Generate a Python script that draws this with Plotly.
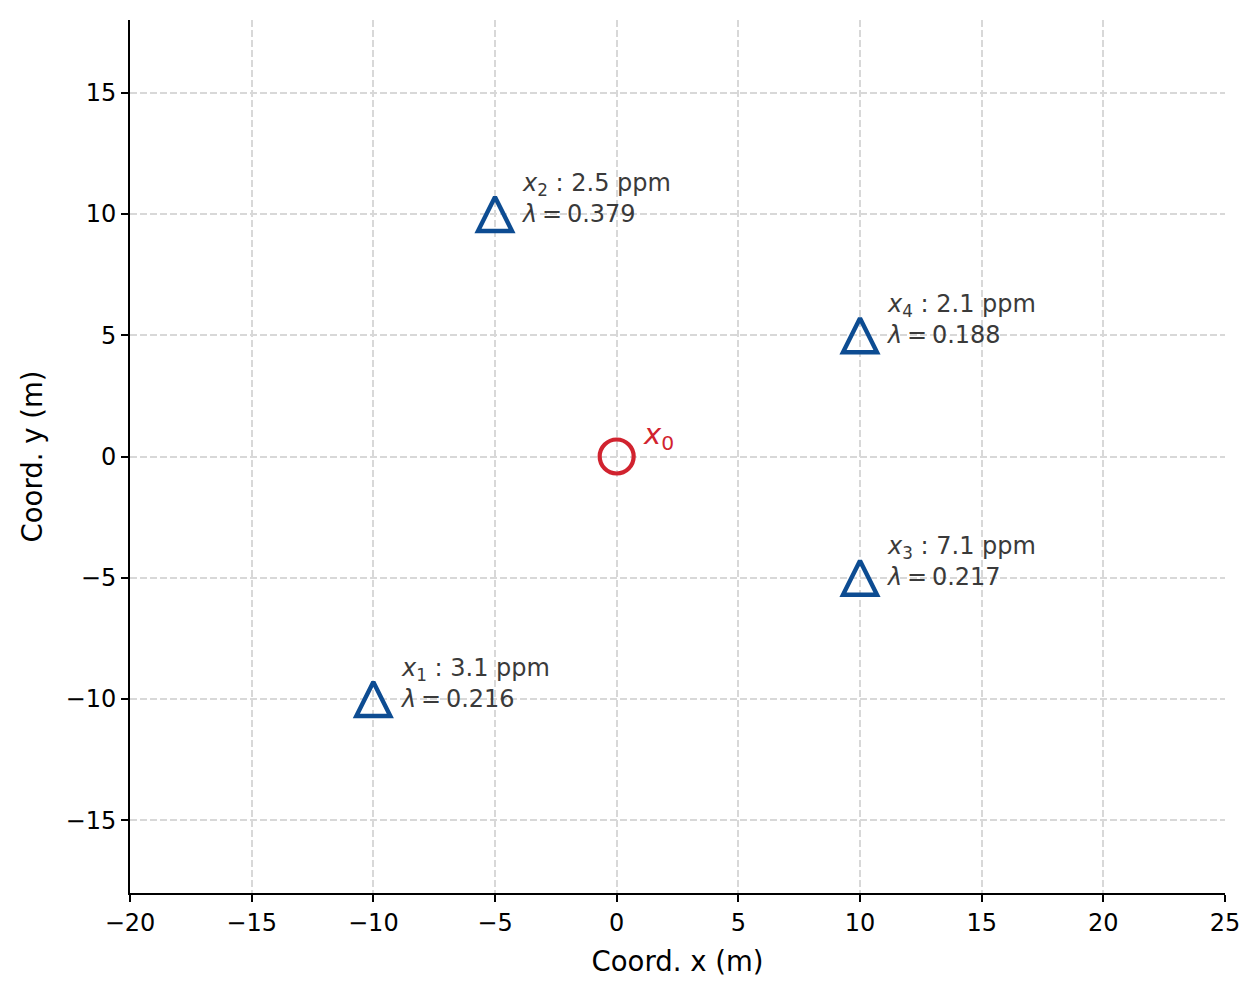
import plotly.graph_objects as go

sensor_x = [-10, -5, 10, 10]
sensor_y = [-10, 10, -5, 5]
sensor_idx = [1, 2, 3, 4]
sensor_ppm = [3.1, 2.5, 7.1, 2.1]
sensor_lambda = [0.216, 0.379, 0.217, 0.188]

source_x = [0]
source_y = [0]

x_ticks = [-20, -15, -10, -5, 0, 5, 10, 15, 20, 25]
y_ticks = [-15, -10, -5, 0, 5, 10, 15]

BLUE = "#0d4c92"
RED = "#d1232f"
TXT = "#3a3a3a"
FONT = "DejaVu Sans"

fig = go.Figure()

fig.add_trace(go.Scatter(
    x=sensor_x, y=sensor_y, mode="markers",
    marker=dict(symbol="arrow-down-open", size=34, angle=180, standoff=17,
                color=BLUE, line=dict(color=BLUE, width=4.4)),
    showlegend=False, hoverinfo="skip"))

fig.add_trace(go.Scatter(
    x=source_x, y=source_y, mode="markers",
    marker=dict(symbol="circle-open", size=34, color=RED,
                line=dict(color=RED, width=4.2)),
    showlegend=False, hoverinfo="skip"))

for xi, yi, k, p, lam in zip(sensor_x, sensor_y, sensor_idx, sensor_ppm, sensor_lambda):
    fig.add_annotation(
        x=xi + 1, y=yi, xref="x", yref="y",
        text=f"<i>x</i><sub>{k}</sub> : {p} ppm<br><i>λ</i>\u2009=\u2009{lam}",
        showarrow=False, xanchor="left", yanchor="middle", align="left",
        yshift=16,
        font=dict(family=FONT, size=24, color=TXT))

fig.add_annotation(
    x=source_x[0] + 1, y=source_y[0], xref="x", yref="y",
    text="<i>x</i><sub>0</sub>", showarrow=False,
    xanchor="left", yanchor="middle", yshift=21,
    font=dict(family=FONT, size=29, color=RED))

axis_common = dict(
    showline=True, linecolor="black", linewidth=2,
    ticks="outside", ticklen=7, tickwidth=2, tickcolor="black",
    showgrid=True, gridcolor="#d8d8d8", gridwidth=1.5, griddash="7px,3px",
    zeroline=False, mirror=False, automargin=False,
    tickfont=dict(family=FONT, size=24, color="black"),
)

fig.update_xaxes(range=[-20, 25], tickvals=x_ticks,
                 title=dict(text="Coord. x (m)", standoff=16,
                            font=dict(family=FONT, size=27.5, color="black")),
                 **axis_common)
fig.update_yaxes(range=[-18, 18], tickvals=y_ticks,
                 title=dict(text="Coord. y (m)", standoff=15,
                            font=dict(family=FONT, size=27.5, color="black")),
                 **axis_common)

# the page body adds an 8px offset, so margins are shifted to keep the plot area in place
fig.update_layout(
    width=1260, height=997,
    margin=dict(l=122, r=43, t=12, b=112),
    plot_bgcolor="white", paper_bgcolor="white",
    font=dict(family=FONT),
)

fig.write_html("out.html")
